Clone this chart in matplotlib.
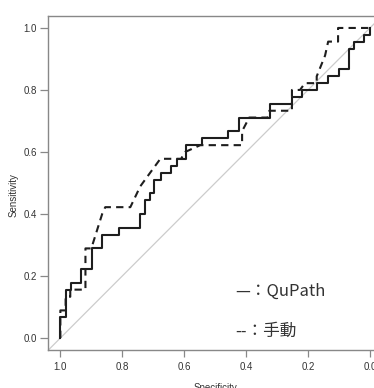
import matplotlib
matplotlib.use("Agg")
import matplotlib.pyplot as plt

# --- datos (vertices de las curvas ROC escalonadas) ---
qupath_spec = [1.0, 1.0, 0.983, 0.983, 0.965, 0.965, 0.933, 0.933, 0.898, 0.898,
               0.865, 0.865, 0.812, 0.812, 0.744, 0.744, 0.728, 0.728, 0.712, 0.712,
               0.696, 0.696, 0.674, 0.674, 0.642, 0.642, 0.624, 0.624, 0.594, 0.594,
               0.543, 0.543, 0.457, 0.457, 0.423, 0.423, 0.323, 0.323, 0.253, 0.253,
               0.22, 0.22, 0.172, 0.172, 0.135, 0.135, 0.099, 0.099, 0.067, 0.067,
               0.05, 0.05, 0.02, 0.02, 0.0, 0.0]
qupath_sens = [0.0, 0.067, 0.067, 0.156, 0.156, 0.178, 0.178, 0.222, 0.222, 0.289,
               0.289, 0.333, 0.333, 0.356, 0.356, 0.4, 0.4, 0.444, 0.444, 0.467,
               0.467, 0.511, 0.511, 0.533, 0.533, 0.556, 0.556, 0.578, 0.578, 0.622,
               0.622, 0.644, 0.644, 0.667, 0.667, 0.711, 0.711, 0.756, 0.756, 0.778,
               0.778, 0.8, 0.8, 0.822, 0.822, 0.844, 0.844, 0.867, 0.867, 0.933,
               0.933, 0.956, 0.956, 0.978, 0.978, 1.0]

manual_spec = [1.0, 1.0, 0.983, 0.983, 0.968, 0.968, 0.919, 0.919, 0.9, 0.865,
               0.855, 0.774, 0.742, 0.71, 0.677, 0.61, 0.597, 0.548, 0.413, 0.413,
               0.39, 0.33, 0.325, 0.252, 0.252, 0.226, 0.21, 0.172, 0.172, 0.145,
               0.135, 0.103, 0.103, 0.0]
manual_sens = [0.0, 0.089, 0.089, 0.133, 0.133, 0.156, 0.156, 0.289, 0.289, 0.4,
               0.422, 0.422, 0.489, 0.533, 0.578, 0.578, 0.6, 0.622, 0.622, 0.667,
               0.711, 0.711, 0.733, 0.733, 0.8, 0.8, 0.822, 0.822, 0.844, 0.911,
               0.956, 0.956, 1.0, 1.0]

ticks = [1.0, 0.8, 0.6, 0.4, 0.2, 0.0]

fig = plt.figure(figsize=(3.74, 3.88), dpi=100)
ax = fig.add_axes([0.1283, 0.0969, 0.894, 0.863])

# linea de referencia
ax.axline((1, 0), (0, 1), color="#cccccc", lw=0.9, zorder=1)

ax.plot(qupath_spec, qupath_sens, color="#1e1e1e", lw=1.5, zorder=3)
ax.plot(manual_spec, manual_sens, color="#1e1e1e", lw=1.5, ls=(0, (3.5, 2.5)), zorder=2)

ax.set_xlim(1.04, -0.04)
ax.set_ylim(-0.04, 1.04)
ax.set_xticks(ticks)
ax.set_yticks(ticks)
ax.set_xticklabels([f"{t:.1f}" for t in ticks])
ax.set_yticklabels([f"{t:.1f}" for t in ticks])

for s in ax.spines.values():
    s.set_color("#888888")
    s.set_linewidth(1.0)
ax.tick_params(length=5, width=0.9, color="#888888", labelsize=7,
               labelcolor="#333333", pad=3)
ax.tick_params(axis="y", length=5.5, pad=2.5)
for lab in ax.get_xticklabels() + ax.get_yticklabels():
    lab.set_family("Liberation Sans")

ax.set_xlabel("Specificity", fontsize=7, color="#333333", family="Liberation Sans")
ax.set_ylabel("Sensitivity", fontsize=7, color="#333333", family="Liberation Sans")
ax.xaxis.set_label_coords(0.5, -0.097)
ax.yaxis.set_label_coords(-0.088, 0.464)

# leyenda escrita a mano como texto
ax.text(0.559, 0.178, "—：QuPath", transform=ax.transAxes, fontsize=12,
        color="#333333", va="center", ha="left",
        family=["Noto Sans CJK JP", "DejaVu Sans"])
ax.text(0.559, 0.058, "--：手動", transform=ax.transAxes, fontsize=12,
        color="#333333", va="center", ha="left",
        family=["Noto Sans CJK JP", "DejaVu Sans"])

fig.savefig("out.png", dpi=100)
